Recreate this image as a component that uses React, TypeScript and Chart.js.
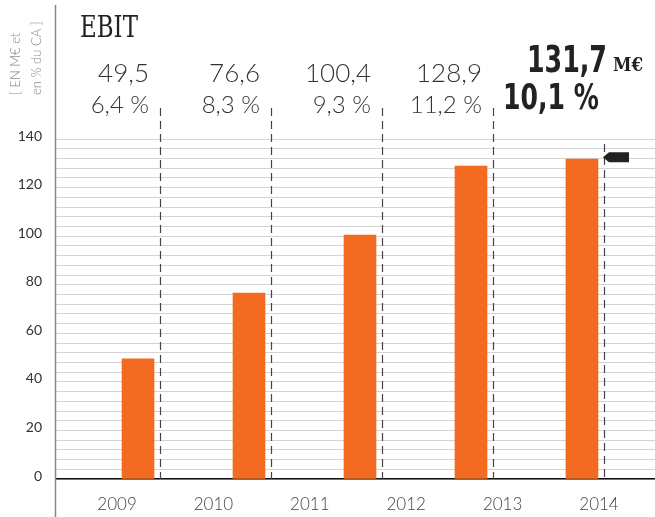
import React, { useEffect, useRef } from "react";
import { Chart, registerables } from "chart.js";

Chart.register(...registerables);

const years = ["2009", "2010", "2011", "2012", "2013", "2014"];
const ebitValues = [49.5, 76.6, 100.4, 128.9, 131.7];
const ebitLabels = ["49,5", "76,6", "100,4", "128,9", "131,7"];
const marginLabels = ["6,4 %", "8,3 %", "9,3 %", "11,2 %", "10,1 %"];
const yLabelTicks = [0, 20, 40, 60, 80, 100, 120, 140];
const yGridStep = 4;
const yMax = 140;
const axisTitleLines = ["[ EN M€ et", "en % du CA ]"];
const title = "EBIT";
const unitLabel = "M€";

const LIGHT = '"Lato", "Open Sans", sans-serif';
const BOLDSANS = '"DejaVu Sans", sans-serif';
const SLAB = '"DejaVu Serif", serif';

function fillFitted(ctx: CanvasRenderingContext2D, text: string, x: number, y: number, width: number) {
  const w = ctx.measureText(text).width;
  const s = w > 0 ? width / w : 1;
  ctx.save();
  ctx.translate(x, y);
  ctx.scale(s, 1);
  ctx.textAlign = "left";
  ctx.fillText(text, 0, 0);
  ctx.restore();
}

const decorPlugin = {
  id: "decor",
  afterDatasetsDraw(chart: any) {
    const ctx = chart.ctx;
    const xs = chart.scales.x;
    const ys = chart.scales.y;
    const area = chart.chartArea;
    const last = ebitValues.length - 1;
    ctx.save();
    ctx.strokeStyle = "#444";
    ctx.lineWidth = 1.2;
    ctx.setLineDash([8, 5]);
    ebitValues.forEach((v, i) => {
      const cx = xs.getPixelForValue(i);
      const lx = Math.round(cx + 22) + 0.5;
      ctx.beginPath();
      ctx.moveTo(lx, i === last ? 144 : 108);
      ctx.lineTo(lx, area.bottom);
      ctx.stroke();
    });
    ctx.setLineDash([]);
    const ty = ys.getPixelForValue(ebitValues[last]) - 2;
    const tx = xs.getPixelForValue(last) + 21;
    ctx.fillStyle = "#222";
    ctx.beginPath();
    ctx.moveTo(tx, ty);
    ctx.lineTo(tx + 6, ty - 5);
    ctx.lineTo(tx + 26, ty - 5);
    ctx.lineTo(tx + 26, ty + 5);
    ctx.lineTo(tx + 6, ty + 5);
    ctx.closePath();
    ctx.fill();
    ctx.restore();
  },
  afterDraw(chart: any) {
    const ctx = chart.ctx;
    const xs = chart.scales.x;
    const last = ebitValues.length - 1;
    ctx.save();
    ctx.strokeStyle = "#888";
    ctx.lineWidth = 1.5;
    ctx.beginPath();
    ctx.moveTo(55.5, 5);
    ctx.lineTo(55.5, 517);
    ctx.stroke();
    ctx.fillStyle = "#888";
    ctx.font = `300 13px ${LIGHT}`;
    ctx.textAlign = "left";
    ctx.textBaseline = "middle";
    [16, 37].forEach((x, k) => {
      ctx.save();
      ctx.translate(x, 95);
      ctx.rotate(-Math.PI / 2);
      ctx.fillText(axisTitleLines[k], 0, 0);
      ctx.restore();
    });
    ctx.fillStyle = "#222";
    ctx.font = `29px ${SLAB}`;
    ctx.textBaseline = "alphabetic";
    fillFitted(ctx, title, 80, 37, 58);
    ebitValues.forEach((v, i) => {
      const cx = xs.getPixelForValue(i);
      if (i < last) {
        ctx.fillStyle = "#333";
        ctx.textAlign = "right";
        ctx.font = `300 26px ${LIGHT}`;
        ctx.fillText(ebitLabels[i], cx + 11, 82);
        ctx.font = `300 24px ${LIGHT}`;
        ctx.fillText(marginLabels[i], cx + 11, 113);
      } else {
        ctx.fillStyle = "#222";
        ctx.font = `bold 38px ${BOLDSANS}`;
        fillFitted(ctx, ebitLabels[i], cx - 55, 72, 80);
        ctx.font = `bold 36px ${BOLDSANS}`;
        fillFitted(ctx, marginLabels[i], cx - 79, 109, 96);
        ctx.font = `bold 18px ${SLAB}`;
        fillFitted(ctx, unitLabel, cx + 31, 71, 30);
      }
    });
    ctx.restore();
  },
};

export default function App() {
  const ref = useRef<HTMLCanvasElement>(null);
  useEffect(() => {
    document.body.style.margin = "0";
    if (!ref.current) return;
    const chart = new Chart(ref.current, {
      type: "bar",
      data: {
        datasets: [
          {
            data: ebitValues.map((v, i) => ({ x: i, y: v })),
            backgroundColor: "#F26B21",
            barThickness: 32,
            xAxisID: "x",
            yAxisID: "y",
          } as any,
        ],
      },
      options: {
        animation: false,
        responsive: true,
        maintainAspectRatio: false,
        layout: { padding: { top: 139, left: 0, right: 0, bottom: 0 } },
        plugins: { legend: { display: false }, tooltip: { enabled: false } },
        scales: {
          x: {
            type: "linear",
            display: false,
            min: -0.739,
            max: 4.658,
            offset: false,
            grid: { offset: false },
          },
          xYears: {
            type: "linear",
            position: "bottom",
            min: -0.633,
            max: 5.581,
            offset: false,
            z: 1,
            grid: { display: false, drawTicks: false, offset: false },
            border: { display: true, color: "#111", width: 1.5 },
            afterBuildTicks: (s: any) => {
              s.ticks = years.map((_, i) => ({ value: i }));
            },
            afterFit: (s: any) => {
              s.height = 38;
            },
            ticks: {
              autoSkip: false,
              maxRotation: 0,
              padding: 15,
              color: "#444",
              font: { family: "Lato, 'Open Sans', sans-serif", size: 17, weight: 300 as any },
              callback: (v: any) => years[v] ?? "",
            },
          },
          y: {
            type: "linear",
            min: 0,
            max: yMax,
            z: 1,
            border: { display: false },
            grid: { color: "rgba(0,0,0,0.17)", lineWidth: 1, drawTicks: false },
            afterBuildTicks: (s: any) => {
              const t: any[] = [];
              for (let v = 0; v <= yMax; v += yGridStep) t.push({ value: v });
              s.ticks = t;
            },
            afterFit: (s: any) => {
              s.width = 56;
            },
            ticks: {
              autoSkip: false,
              padding: 14,
              labelOffset: -3,
              color: "#333",
              font: { family: "Lato, 'Open Sans', sans-serif", size: 14 },
              callback: (v: any) => (yLabelTicks.includes(v) ? String(v) : ""),
            },
          },
        },
      } as any,
      plugins: [decorPlugin],
    });
    return () => chart.destroy();
  }, []);
  return (
    <div style={{ width: 655, height: 517, position: "relative" }}>
      <canvas ref={ref} />
    </div>
  );
}
